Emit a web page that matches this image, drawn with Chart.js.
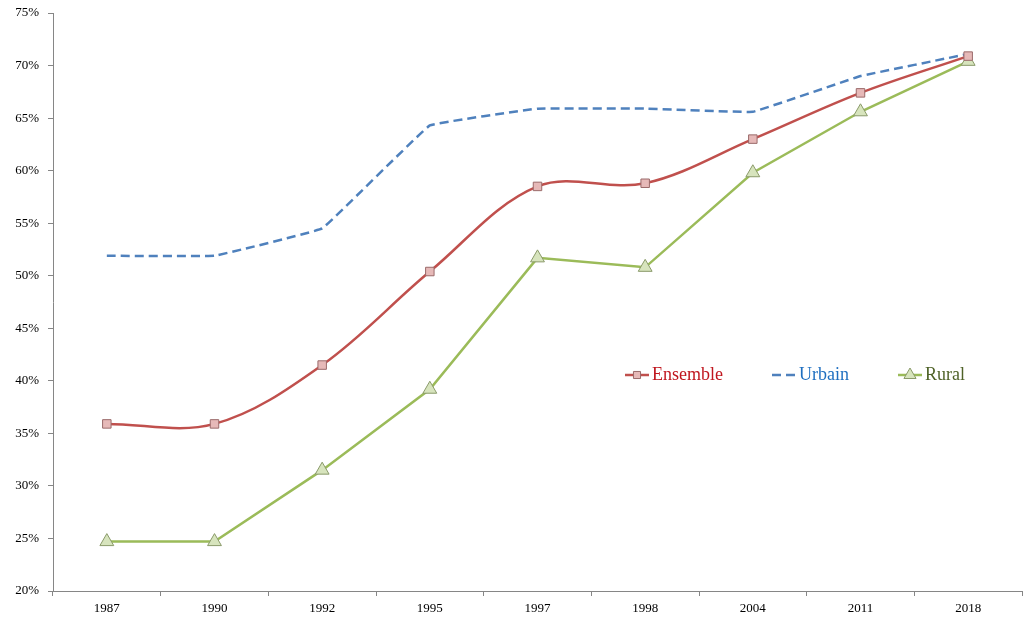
<!DOCTYPE html>
<html>
<head>
<meta charset="utf-8">
<script src="https://cdn.jsdelivr.net/npm/chart.js@4/dist/chart.umd.min.js"></script>
<style>
  html, body { margin: 0; padding: 0; background: #fff; overflow: hidden; }
  #wrap { width: 1025px; height: 617px; position: relative; overflow: hidden; }
</style>
</head>
<body>
<div id="wrap"><canvas id="chart" width="1031" height="617"></canvas></div>
<script>
// Données
const years = ['1987', '1990', '1992', '1995', '1997', '1998', '2004', '2011', '2018'];
const ensemble = [35.9, 35.9, 41.5, 50.4, 58.5, 58.8, 63.0, 67.4, 70.9];
const urbain = [51.9, 51.9, 54.5, 64.3, 65.9, 65.9, 65.6, 69.0, 71.1];
const rural = [24.7, 24.7, 31.5, 39.2, 51.7, 50.8, 59.8, 65.6, 70.4];

const axisColor = '#868686';
const serif = '"Liberation Serif", "Times New Roman", serif';

// Légende placée dans la zone du graphique
const legendItems = [
    { ds: 0, x: 625, text: '#C0161E' },
    { ds: 1, x: 772, text: '#1F6FC0' },
    { ds: 2, x: 898, text: '#4F6228' }
];

const insideLegend = {
    id: 'insideLegend',
    afterDraw(c) {
        const ctx = c.ctx;
        const y = 375;
        ctx.save();
        legendItems.forEach(it => {
            const ds = c.data.datasets[it.ds];
            ctx.strokeStyle = ds.borderColor;
            ctx.lineWidth = 2.5;
            ctx.setLineDash(ds.borderDash || []);
            ctx.beginPath();
            ctx.moveTo(it.x, y);
            ctx.lineTo(it.x + 24, y);
            ctx.stroke();
            ctx.setLineDash([]);
            if (ds.pointRadius > 0) {
                ctx.fillStyle = ds.pointBackgroundColor;
                ctx.strokeStyle = ds.pointBorderColor;
                ctx.lineWidth = 1;
                Chart.helpers.drawPoint(ctx, {
                    pointStyle: ds.pointStyle,
                    radius: ds.pointRadius - 1,
                    borderWidth: 1,
                    rotation: 0
                }, it.x + 12, y);
            }
            ctx.fillStyle = it.text;
            ctx.font = '18px ' + serif;
            ctx.textBaseline = 'middle';
            ctx.fillText(ds.label, it.x + 27, y);
        });
        ctx.restore();
    }
};

const ctx = document.getElementById('chart').getContext('2d');
const chart = new Chart(ctx, {
    type: 'line',
    data: {
        labels: years,
        datasets: [
            {
                label: 'Ensemble',
                data: ensemble,
                borderColor: '#C0504D',
                borderWidth: 2.5,
                tension: 0.35,
                pointStyle: 'rect',
                pointRadius: 6,
                pointBorderWidth: 1,
                pointBackgroundColor: '#E6B9B8',
                pointBorderColor: '#9A6A6A'
            },
            {
                label: 'Urbain',
                data: urbain,
                borderColor: '#4F81BD',
                borderWidth: 2.5,
                borderDash: [9, 5],
                tension: 0.05,
                pointRadius: 0
            },
            {
                label: 'Rural',
                data: rural,
                borderColor: '#9BBB59',
                borderWidth: 2.5,
                tension: 0,
                pointStyle: 'triangle',
                pointRadius: 8,
                pointBorderWidth: 1,
                pointBackgroundColor: '#D7E4BD',
                pointBorderColor: '#8A9A6A'
            }
        ]
    },
    options: {
        responsive: false,
        animation: false,
        layout: { padding: { top: 13, right: 3, left: 0, bottom: 0 } },
        plugins: {
            legend: { display: false },
            title: { display: false },
            tooltip: { enabled: false }
        },
        scales: {
            x: {
                offset: true,
                grid: {
                    offset: true,
                    drawOnChartArea: false,
                    tickLength: 5,
                    color: axisColor
                },
                border: { color: axisColor, width: 1 },
                ticks: {
                    color: '#000',
                    padding: 5,
                    maxRotation: 0,
                    font: { family: serif, size: 13 }
                },
                afterFit(scale) { scale.height = 26; }
            },
            y: {
                min: 20,
                max: 75,
                grid: {
                    drawOnChartArea: false,
                    tickLength: 5,
                    color: axisColor
                },
                border: { color: axisColor, width: 1 },
                ticks: {
                    stepSize: 5,
                    color: '#000',
                    padding: 9,
                    font: { family: serif, size: 13 },
                    callback: v => v + '%'
                },
                afterFit(scale) {
                    scale.width = 53;
                    scale.paddingTop = 0;
                    scale.paddingBottom = 0;
                }
            }
        }
    },
    plugins: [insideLegend]
});
</script>
</body>
</html>
